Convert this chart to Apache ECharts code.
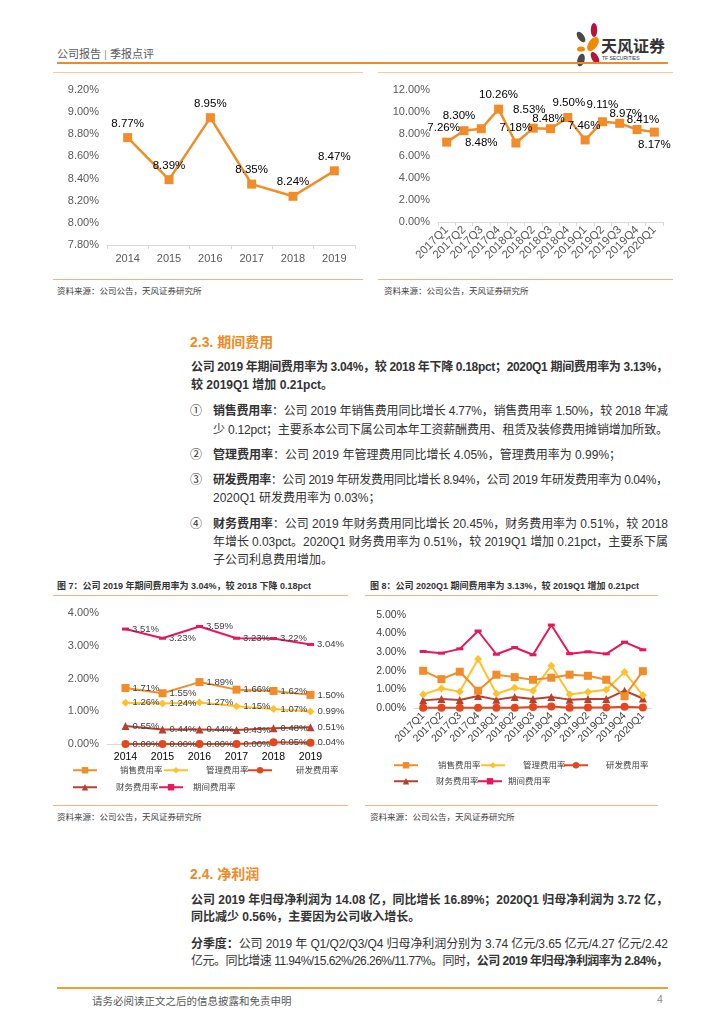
<!DOCTYPE html>
<html><head><meta charset="utf-8">
<script src="https://cdn.jsdelivr.net/npm/echarts@6/dist/echarts.min.js"></script>
<style>
body{margin:0;width:724px;height:1024px;position:relative;background:#fff;font-family:"Liberation Sans","Noto Sans CJK SC",sans-serif;color:#333;overflow:hidden}
.a{position:absolute;white-space:nowrap}
.ln{position:absolute;white-space:nowrap;font-size:12px;line-height:16px;color:#333}
.b{font-weight:bold}
.hr{position:absolute;height:0}
.c{position:absolute}
.src{position:absolute;white-space:nowrap;font-size:8.5px;color:#404040}
.cap{position:absolute;white-space:nowrap;font-size:9px;font-weight:bold;color:#333}
.h2{position:absolute;white-space:nowrap;font-size:14px;font-weight:bold;color:#F08A24}
</style></head><body>

<div class="a" style="left:57px;top:45px;font-size:11px;color:#595959">公司报告 <span style="color:#999">|</span> 季报点评</div>
<svg class="a" style="left:570px;top:22px" width="100" height="46" viewBox="0 0 100 46">
  <ellipse cx="24" cy="8" rx="3.2" ry="7" fill="#B5133A"/>
  <ellipse cx="11" cy="15" rx="3.2" ry="6" fill="#4A4A4A" transform="rotate(-35 11 15)"/>
  <ellipse cx="23" cy="22" rx="4.5" ry="8" fill="#F08A00" transform="rotate(35 23 22)"/>
  <ellipse cx="11" cy="27" rx="4" ry="2.6" fill="#F08A00"/>
  <ellipse cx="11" cy="38" rx="3.6" ry="6.5" fill="#4A4A4A" transform="rotate(15 11 38)"/>
  <ellipse cx="25" cy="36" rx="3.3" ry="6.5" fill="#B5133A" transform="rotate(-30 25 36)"/>
  <text x="31" y="30" font-size="16" font-weight="bold" fill="#333" font-family="Noto Sans CJK SC">天风证券</text>
  <text x="32" y="38" font-size="5" fill="#333" font-family="Liberation Sans">TF SECURITIES</text>
</svg>
<div class="hr" style="left:57px;top:62px;width:611px;border-top:2px solid #F08A24"></div>
<div class="hr" style="left:53px;top:72px;width:310px;border-top:1px solid #F8C9A0"></div>
<div class="hr" style="left:378px;top:72px;width:295px;border-top:1px solid #F8C9A0"></div>

<div id="cA" class="c" style="left:53px;top:75px;width:310px;height:200px"></div>
<div id="cB" class="c" style="left:378px;top:75px;width:295px;height:200px"></div>

<div class="hr" style="left:53px;top:279px;width:310px;border-top:1px solid #F4B183"></div>
<div class="hr" style="left:378px;top:279px;width:295px;border-top:1px solid #F4B183"></div>
<div class="src" style="left:57px;top:284px">资料来源：公司公告，天风证券研究所</div>
<div class="src" style="left:384px;top:284px">资料来源：公司公告，天风证券研究所</div>

<div class="h2" style="left:190px;top:331px">2.3. 期间费用</div>
<div class="ln b j" data-w="477" style="left:191px;top:359px">公司 2019 年期间费用率为 3.04%，较 2018 年下降 0.18pct；2020Q1 期间费用率为 3.13%，</div>
<div class="ln b" style="left:191px;top:377px">较 2019Q1 增加 0.21pct。</div>

<div class="ln" style="left:190px;top:403px">①</div>
<div class="ln j" data-w="455" style="left:213px;top:403px"><span class="b">销售费用率</span>：公司 2019 年销售费用同比增长 4.77%，销售费用率 1.50%，较 2018 年减</div>
<div class="ln j" data-w="455" style="left:213px;top:422px">少 0.12pct；主要系本公司下属公司本年工资薪酬费用、租赁及装修费用摊销增加所致。</div>

<div class="ln" style="left:190px;top:447px">②</div>
<div class="ln" style="left:213px;top:447px"><span class="b">管理费用率</span>：公司 2019 年管理费用同比增长 4.05%，管理费用率为 0.99%；</div>

<div class="ln" style="left:190px;top:472px">③</div>
<div class="ln j" data-w="455" style="left:213px;top:472px"><span class="b">研发费用率</span>：公司 2019 年研发费用同比增长 8.94%，公司 2019 年研发费用率为 0.04%，</div>
<div class="ln" style="left:213px;top:490px">2020Q1 研发费用率为 0.03%；</div>

<div class="ln" style="left:190px;top:516px">④</div>
<div class="ln j" data-w="455" style="left:213px;top:516px"><span class="b">财务费用率</span>：公司 2019 年财务费用同比增长 20.45%，财务费用率为 0.51%，较 2018</div>
<div class="ln j" data-w="455" style="left:213px;top:534px">年增长 0.03pct。2020Q1 财务费用率为 0.51%，较 2019Q1 增加 0.21pct，主要系下属</div>
<div class="ln" style="left:213px;top:552px">子公司利息费用增加。</div>

<div class="cap" style="left:57px;top:579px">图 7：公司 2019 年期间费用率为 3.04%，较 2018 下降 0.18pct</div>
<div class="cap" style="left:370px;top:579px">图 8：公司 2020Q1 期间费用率为 3.13%，较 2019Q1 增加 0.21pct</div>
<div class="hr" style="left:53px;top:595px;width:295px;border-top:1px solid #F4B183"></div>
<div class="hr" style="left:365px;top:595px;width:293px;border-top:1px solid #F4B183"></div>

<div id="cC" class="c" style="left:53px;top:598px;width:295px;height:205px"></div>
<div id="cD" class="c" style="left:365px;top:598px;width:293px;height:205px"></div>

<div class="hr" style="left:53px;top:805px;width:295px;border-top:1px solid #F4B183"></div>
<div class="hr" style="left:365px;top:805px;width:293px;border-top:1px solid #F4B183"></div>
<div class="src" style="left:57px;top:810px">资料来源：公司公告，天风证券研究所</div>
<div class="src" style="left:370px;top:810px">资料来源：公司公告，天风证券研究所</div>

<div class="h2" style="left:190px;top:863px">2.4. 净利润</div>
<div class="ln b j" data-w="477" style="left:191px;top:892px">公司 2019 年归母净利润为 14.08 亿，同比增长 16.89%；2020Q1 归母净利润为 3.72 亿，</div>
<div class="ln b" style="left:191px;top:909px">同比减少 0.56%，主要因为公司收入增长。</div>
<div class="ln j" data-w="477" style="left:191px;top:936px"><span class="b">分季度：</span>公司 2019 年 Q1/Q2/Q3/Q4 归母净利润分别为 3.74 亿元/3.65 亿元/4.27 亿元/2.42</div>
<div class="ln j" data-w="477" style="left:191px;top:953px">亿元。同比增速 11.94%/15.62%/26.26%/11.77%。同时，<span class="b">公司 2019 年归母净利润率为 2.84%，</span></div>

<div class="hr" style="left:57px;top:987px;width:611px;border-top:2px solid #F0A030"></div>
<div class="a" style="left:92px;top:993px;font-size:10.5px;color:#595959">请务必阅读正文之后的信息披露和免责申明</div>
<div class="a" style="left:657px;top:993px;font-size:10.5px;color:#8c8c8c">4</div>

<script>
// ---------- data ----------
const years = ['2014','2015','2016','2017','2018','2019'];
const netMarginYear = [8.77, 8.39, 8.95, 8.35, 8.24, 8.47];
const quarters = ['2017Q1','2017Q2','2017Q3','2017Q4','2018Q1','2018Q2','2018Q3','2018Q4','2019Q1','2019Q2','2019Q3','2019Q4','2020Q1'];
const netMarginQuarter = [7.26, 8.30, 8.48, 10.26, 7.18, 8.53, 8.48, 9.50, 7.46, 9.11, 8.97, 8.41, 8.17];
const seriesNames = ['销售费用率','管理费用率','研发费用率','财务费用率','期间费用率'];
const sellYear   = [1.71, 1.55, 1.89, 1.66, 1.62, 1.50];
const adminYear  = [1.26, 1.24, 1.27, 1.15, 1.07, 0.99];
const rdYear     = [0.00, 0.00, 0.00, 0.00, 0.05, 0.04];
const finYear    = [0.55, 0.44, 0.44, 0.43, 0.48, 0.51];
const periodYear = [3.51, 3.23, 3.59, 3.23, 3.22, 3.04];
const sellQ   = [2.00, 1.55, 1.95, 0.93, 1.79, 1.66, 1.52, 1.63, 1.79, 1.73, 1.52, 0.63, 1.98];
const adminQ  = [0.73, 1.05, 0.88, 2.63, 0.77, 1.09, 0.93, 2.27, 0.73, 0.86, 0.98, 1.93, 0.68];
const rdQ     = [0.01, 0.01, 0.01, 0.01, 0.01, 0.02, 0.05, 0.08, 0.02, 0.03, 0.03, 0.07, 0.03];
const finQ    = [0.41, 0.48, 0.43, 0.64, 0.45, 0.59, 0.48, 0.59, 0.45, 0.48, 0.48, 0.93, 0.51];
const periodQ = [3.04, 2.95, 3.18, 4.14, 2.89, 3.25, 2.86, 4.46, 2.92, 3.02, 2.91, 3.54, 3.13];

// ---------- styles ----------
const F = '"Liberation Sans","Noto Sans CJK SC",sans-serif';
const ORANGE = '#F28C28';
const colors = ['#F28C28', '#FFC12B', '#E5461E', '#B5412E', '#E5185A'];
const symbols = ['rect', 'diamond', 'circle', 'triangle', 'rect'];
const pct = v => (typeof v === 'number' ? v : v.value).toFixed(2) + '%';
// label placement for quarterly chart (position, offset)
const labelQ = [['top',[-3,0]],['top',[-5,-1]],['bottom',[0,0]],['top',[0,0]],['top',[0,-1]],['top',[-4,-4]],['top',[-2,4]],['top',[1,0]],['top',[-1,0]],['top',[0,-3]],['top',[6,5]],['top',[6,5]],['bottom',[0,-2]]];

// justify lines
document.querySelectorAll('.j').forEach(el => {
  const target = +el.dataset.w;
  el.style.display = 'inline-block';
  const w = el.getBoundingClientRect().width;
  const n = el.textContent.length;
  el.style.letterSpacing = ((target - w) / (n - 1)) + 'px';
});

function catAxis(data, o) {
  return Object.assign({
    type: 'category', data, boundaryGap: true,
    axisLine: { lineStyle: { color: '#D9D9D9', width: 1 } },
    axisTick: { show: true, length: 4, lineStyle: { color: '#D9D9D9' } },
    axisLabel: { color: '#595959', fontSize: 11, fontFamily: F, margin: 8, interval: 0 }
  }, o || {});
}
function valAxis(min, max, interval, o) {
  return Object.assign({
    type: 'value', min, max, interval,
    splitLine: { show: false }, axisLine: { show: false }, axisTick: { show: false },
    axisLabel: { color: '#595959', fontSize: 11, fontFamily: F, margin: 8, formatter: v => v.toFixed(2) + '%' }
  }, o || {});
}

// Chart A
echarts.init(document.getElementById('cA'), null, { renderer: 'canvas' }).setOption({
  animation: false,
  grid: { left: 54, right: 8, top: 15, bottom: 30 },
  xAxis: catAxis(years),
  yAxis: valAxis(7.8, 9.2, 0.2),
  series: [{
    type: 'line', data: netMarginYear, color: ORANGE,
    lineStyle: { width: 2.5, color: ORANGE }, symbol: 'rect', symbolSize: 9,
    itemStyle: { color: ORANGE },
    label: { show: true, position: 'top', distance: 4, color: '#000', fontSize: 11.5, fontFamily: F, formatter: pct }
  }]
});

// Chart B
echarts.init(document.getElementById('cB')).setOption({
  animation: false,
  grid: { left: 60, right: 10, top: 15, bottom: 53 },
  xAxis: catAxis(quarters, { axisLabel: { color: '#595959', fontSize: 11.5, fontFamily: F, rotate: 45, margin: 6, interval: 0 } }),
  yAxis: valAxis(0, 12, 2),
  series: [{
    type: 'line', color: ORANGE,
    data: netMarginQuarter.map((v, i) => ({ value: v, label: { position: labelQ[i][0], offset: labelQ[i][1] } })),
    lineStyle: { width: 2.5, color: ORANGE }, symbol: 'rect', symbolSize: 9,
    itemStyle: { color: ORANGE },
    label: { show: true, distance: 4, color: '#000', fontSize: 11.5, fontFamily: F, formatter: pct }
  }]
});

function lg(name, left, top, pad) {
  return { data: [name], left, top, itemWidth: 24, itemHeight: 8, padding: 0, selectedMode: false,
    textStyle: { fontSize: 8.5, color: '#404040', fontFamily: F, padding: [0, 0, 0, pad] } };
}
function mkSeries(arrs, withLabel, size) {
  return arrs.map((d, i) => ({
    type: 'line', name: seriesNames[i], data: d, color: colors[i],
    lineStyle: { width: 2, color: colors[i] },
    symbol: symbols[i], symbolSize: i === 4 ? [7, 3] : size,
    itemStyle: { color: colors[i] },
    z: 10 - i,
    label: withLabel ? { show: true, position: 'right', distance: 3, color: '#404040', fontSize: 9.5, fontFamily: F, formatter: pct } : { show: false }
  }));
}

// Chart C
echarts.init(document.getElementById('cC')).setOption({
  animation: false,
  legend: [lg(seriesNames[0], 19, 168, 18), lg(seriesNames[1], 110, 168, 13), lg(seriesNames[2], 194, 168, 19),
           lg(seriesNames[3], 19, 185, 14), lg(seriesNames[4], 105, 185, 5)],
  grid: { left: 54, right: 19, top: 15, bottom: 59 },
  xAxis: catAxis(years, { axisTick: { show: false }, axisLabel: { color: '#000', fontSize: 10.5, fontFamily: F, margin: 8 } }),
  yAxis: valAxis(0, 4, 1),
  series: mkSeries([sellYear, adminYear, rdYear, finYear, periodYear], true, 8)
});

// Chart D
echarts.init(document.getElementById('cD')).setOption({
  animation: false,
  legend: [lg(seriesNames[0], 28, 163, 15), lg(seriesNames[1], 115, 163, 13), lg(seriesNames[2], 198, 163, 13),
           lg(seriesNames[3], 28, 179, 13), lg(seriesNames[4], 112, 179, 1)],
  grid: { left: 49, right: 6, top: 17, bottom: 95 },
  xAxis: catAxis(quarters, { axisTick: { show: false }, axisLabel: { color: '#404040', fontSize: 10.5, fontFamily: F, rotate: 45, margin: 6, interval: 0 } }),
  yAxis: valAxis(0, 5, 1, { axisLabel: { color: '#404040', fontSize: 10.5, fontFamily: F, margin: 8, formatter: v => v.toFixed(2) + '%' } }),
  series: mkSeries([sellQ, adminQ, rdQ, finQ, periodQ], false, 8)
});
</script>
</body></html>
